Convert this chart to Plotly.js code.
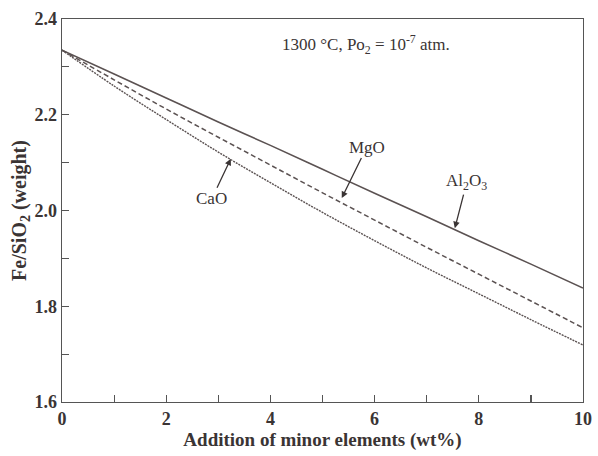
<!DOCTYPE html>
<html>
<head>
<meta charset="utf-8">
<script src="https://cdn.plot.ly/plotly-3.0.1.min.js"></script>
<style>html,body{margin:0;padding:0;background:#fff;}#chart{width:598px;height:456px;}</style>
</head>
<body>
<div id="chart"></div>
<script>
const additions = [0, 1, 2, 3, 4, 5, 6, 7, 8, 9, 10];
const al2o3 = [2.335, 2.285, 2.235, 2.185, 2.136, 2.086, 2.036, 1.987, 1.937, 1.888, 1.838];
const mgo = [2.335, 2.273, 2.212, 2.153, 2.095, 2.037, 1.980, 1.923, 1.867, 1.811, 1.755];
const cao = [2.335, 2.260, 2.190, 2.122, 2.058, 1.996, 1.937, 1.880, 1.826, 1.772, 1.719];
const xTicks = [0, 2, 4, 6, 8, 10];
const yTicks = [1.6, 1.8, 2.0, 2.2, 2.4];

const lineColor = '#5b5252';
const font = {family: '"Liberation Serif", "Times New Roman", serif', color: '#3a3434'};

const traces = [
  {x: additions, y: al2o3, mode: 'lines', line: {color: lineColor, width: 1.6, dash: 'solid', shape: 'spline'}, name: 'Al2O3'},
  {x: additions, y: mgo, mode: 'lines', line: {color: lineColor, width: 1.5, dash: '5px,3px', shape: 'spline'}, name: 'MgO'},
  {x: additions, y: cao, mode: 'lines', line: {color: lineColor, width: 1.4, dash: '2px,1px', shape: 'spline'}, name: 'CaO'}
];

const arrowCommon = {showarrow: true, arrowhead: 2, arrowsize: 1, arrowwidth: 1.3, arrowcolor: '#3a3434', font: Object.assign({size: 17}, font)};

const layout = {
  width: 598, height: 456,
  margin: {l: 62, r: 15, t: 19, b: 54},
  paper_bgcolor: '#ffffff', plot_bgcolor: '#ffffff',
  showlegend: false,
  font: font,
  xaxis: {
    range: [0, 10], tickvals: xTicks, ticktext: xTicks.map(String),
    ticks: 'inside', ticklen: 7, tickwidth: 1.2, tickcolor: '#555',
    minor: {dtick: 1, ticks: 'inside', ticklen: 7, tickwidth: 1.2, tickcolor: '#555'},
    showline: true, linecolor: '#555', linewidth: 1.4, mirror: true,
    showgrid: false, zeroline: false,
    tickfont: Object.assign({size: 18, weight: 'bold'}, font),
    title: {text: '<b>Addition of minor elements (wt%)</b>', font: Object.assign({size: 19}, font), standoff: 2}
  },
  yaxis: {
    range: [1.6, 2.4], tickvals: yTicks, ticktext: yTicks.map(v => v.toFixed(1)),
    ticks: 'inside', ticklen: 7, tickwidth: 1.2, tickcolor: '#555',
    minor: {dtick: 0.1, ticks: 'inside', ticklen: 7, tickwidth: 1.2, tickcolor: '#555'},
    showline: true, linecolor: '#555', linewidth: 1.4, mirror: true,
    showgrid: false, zeroline: false,
    tickfont: Object.assign({size: 18, weight: 'bold'}, font),
    title: {text: '<b>Fe/SiO<sub>2</sub> (weight)</b>', font: Object.assign({size: 20}, font), standoff: 2}
  },
  annotations: [
    {x: 5.83, y: 2.346, xref: 'x', yref: 'y', showarrow: false,
     text: '1300 °C, Po<sub>2</sub> = 10<sup>-7</sup> atm.', font: Object.assign({size: 17}, font)},
    Object.assign({x: 7.54, y: 1.963, ax: 12, ay: -46, text: 'Al<sub>2</sub>O<sub>3</sub>'}, arrowCommon),
    Object.assign({x: 5.37, y: 2.026, ax: 25, ay: -51, text: 'MgO'}, arrowCommon),
    Object.assign({x: 3.24, y: 2.108, ax: -19, ay: 40, text: 'CaO'}, arrowCommon)
  ]
};

Plotly.newPlot('chart', traces, layout, {displayModeBar: false, staticPlot: true});
</script>
</body>
</html>
